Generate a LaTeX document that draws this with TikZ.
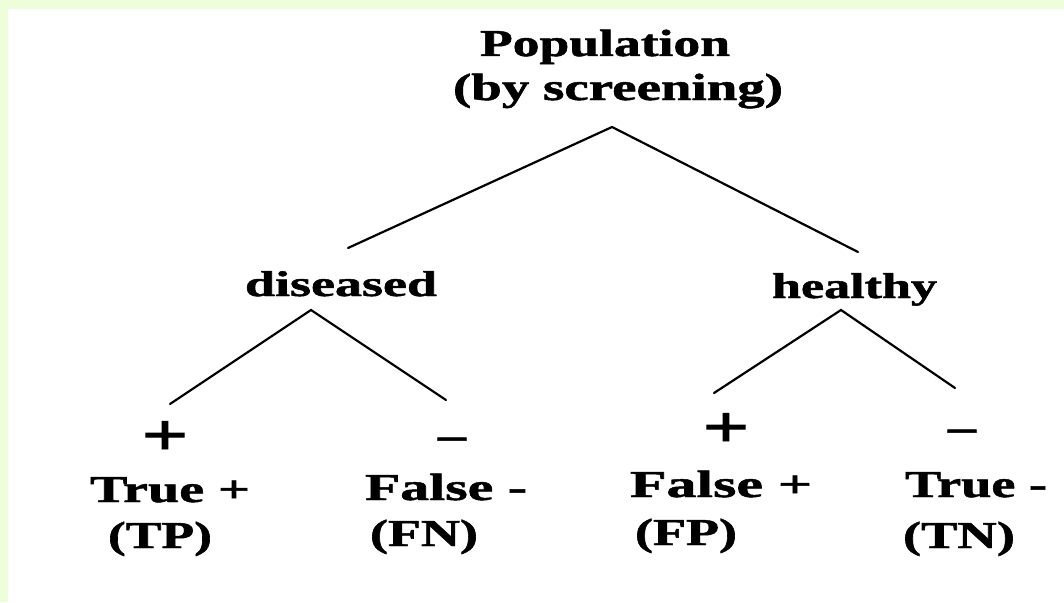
\documentclass[tikz,border=0pt]{standalone}
\usepackage{fontspec}
\setmainfont{Liberation Serif}[BoldFeatures={FakeBold=1.2}]
\usepackage{graphicx}
\definecolor{bandgreen}{HTML}{EEFEDA}
\newcommand\fw[3]{\resizebox{#1pt}{\height}{\fontsize{#2pt}{#2pt}\selectfont\bfseries #3}}
\begin{document}
\begin{tikzpicture}[x=1pt,y=-1pt,
  lbl/.style={inner sep=0pt, outer sep=0pt, anchor=base west},
  sign/.style={inner sep=0pt, outer sep=0pt, anchor=base},
  branch/.style={line width=2.2pt, black, line cap=round}]
\useasboundingbox (0,0) rectangle (1064,602);
\fill[white] (0,0) rectangle (1064,602);
\fill[bandgreen] (0,0) rectangle (1064,9);
\fill[bandgreen] (0,0) rectangle (8,602);

% top
\node[lbl] (pop) at (480,56) {\fw{250}{38}{Population}};
\node[lbl] (pop2) at (453,100) {\fw{330}{38}{(by screening)}};

% middle
\node[lbl] (dis) at (245,296) {\fw{192}{36}{diseased}};
\node[lbl] (hea) at (772,298) {\fw{165}{36}{healthy}};

% signs
\node[sign] (p1) at (165,455) {\fw{47}{60}{+}};
\node[sign] (m1) at (452,449) {\fw{28}{42}{–}};
\node[sign] (p2) at (726,447) {\fw{47}{60}{+}};
\node[sign] (m2) at (962,441) {\fw{28}{42}{–}};

% leaves
\node[lbl] (tp) at (90,502) {\fw{160}{38}{True +}};
\node[lbl] (tpa) at (108,548) {\fw{104}{38}{(TP)}};
\node[lbl] (fn) at (365,500) {\fw{162}{38}{False -}};
\node[lbl] (fna) at (370,546) {\fw{108}{38}{(FN)}};
\node[lbl] (fp) at (630,497) {\fw{182}{38}{False +}};
\node[lbl] (fpa) at (635,545) {\fw{102}{38}{(FP)}};
\node[lbl] (tn) at (905,497) {\fw{142}{38}{True -}};
\node[lbl] (tna) at (903,548) {\fw{112}{38}{(TN)}};

% connectors
\draw[branch] ([xshift=7pt,yshift=48pt]dis.base) -- ([xshift=-6pt,yshift=-27pt]pop2.base) -- ([xshift=3.5pt,yshift=46pt]hea.base);
\draw[branch] ([xshift=5pt,yshift=51pt]p1.base) -- ([xshift=-30pt,yshift=-14pt]dis.base) -- ([xshift=-6pt,yshift=49pt]m1.base);
\draw[branch] ([xshift=-12pt,yshift=54pt]p2.base) -- ([xshift=-13.5pt,yshift=-12pt]hea.base) -- ([xshift=-7pt,yshift=53pt]m2.base);
\end{tikzpicture}
\end{document}
